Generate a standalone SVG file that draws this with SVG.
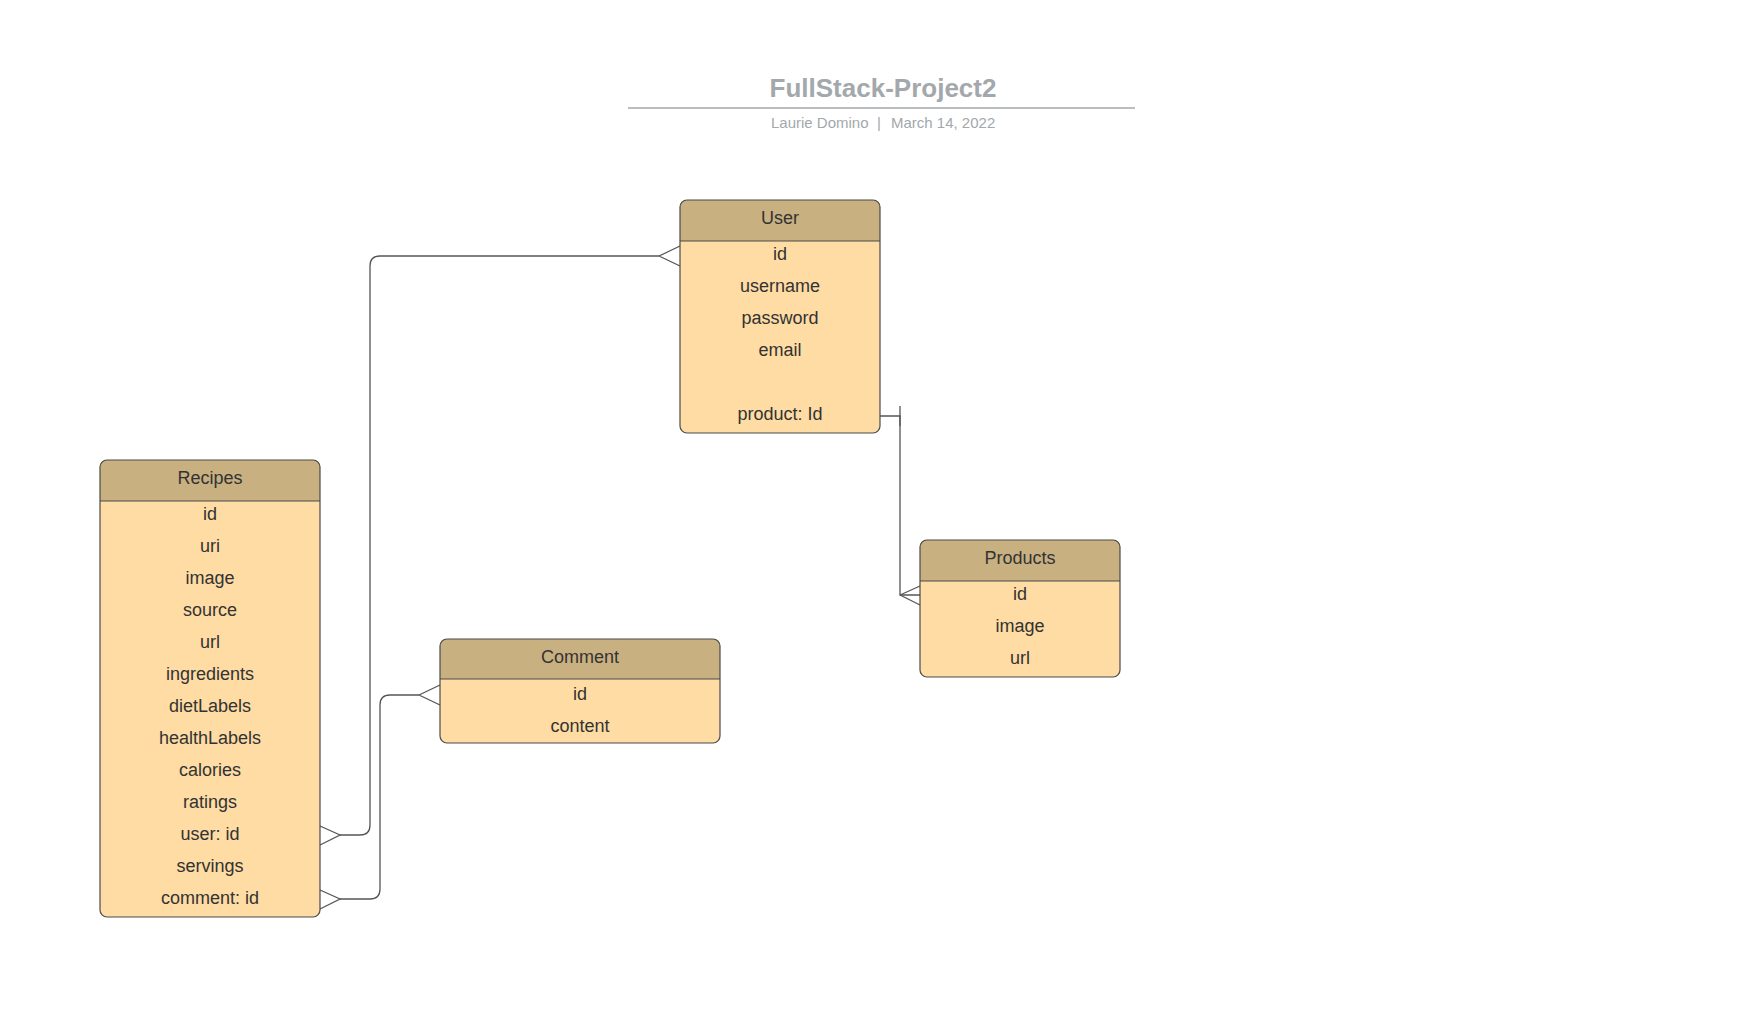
<svg xmlns="http://www.w3.org/2000/svg" width="1760" height="1012" viewBox="0 0 1760 1012">
<style>
.body{fill:#FEDCA4;}
.hdr{fill:#C9B081;}
.out{fill:none;stroke:#4a4a4a;stroke-width:1.2;}
.sep{stroke:#4a4a4a;stroke-width:1.2;}
.t{font-family:"Liberation Sans",Arial,sans-serif;font-size:18px;fill:#333333;text-anchor:middle;dominant-baseline:central;}
.conn{fill:none;stroke:#555555;stroke-width:1.3;}
</style>
<rect width="1760" height="1012" fill="#ffffff"/>
<g id="title">
<text x="883" y="97" font-family="Liberation Sans, Arial, sans-serif" font-size="26" font-weight="bold" fill="#A3A8AC" text-anchor="middle">FullStack-Project2</text>
<line x1="628" y1="108" x2="1135" y2="108" stroke="#A3A8AC" stroke-width="1.5"/>
<text y="128" font-family="Liberation Sans, Arial, sans-serif" font-size="15" fill="#A3A8AC"><tspan x="771">Laurie Domino</tspan><tspan x="877">|</tspan><tspan x="891">March 14, 2022</tspan></text>
</g>
<g id="connectors">
<path class="conn" d="M340 835 H360 Q370 835 370 825 V266 Q370 256 380 256 H659"/>
<path class="conn" d="M659 256 L680 246 M659 256 L680 266"/>
<path class="conn" d="M320 826 L340 835 L320 845"/>
<path class="conn" d="M340 899 H370 Q380 899 380 889 V705 Q380 695 390 695 H419"/>
<path class="conn" d="M419 695 L440 685 M419 695 L440 705"/>
<path class="conn" d="M320 890 L340 899 L320 909"/>
<path class="conn" d="M880 416 H900 V595 H920"/>
<path class="conn" d="M900 406 V426"/>
<path class="conn" d="M900 595 L920 586 M900 595 L920 605"/>
</g>
<g id="user">
<rect class="body" x="680" y="200" width="200" height="233" rx="7"/>
<path class="hdr" d="M680 241 V207 Q680 200 687 200 H873 Q880 200 880 207 V241 Z"/>
<line class="sep" x1="680" y1="241" x2="880" y2="241"/>
<rect class="out" x="680" y="200" width="200" height="233" rx="7"/>
<text class="t" x="780" y="218">User</text>
<text class="t" x="780" y="254">id</text>
<text class="t" x="780" y="286">username</text>
<text class="t" x="780" y="318">password</text>
<text class="t" x="780" y="350">email</text>
<text class="t" x="780" y="414">product: Id</text>
</g>
<g id="recipes">
<rect class="body" x="100" y="460" width="220" height="457" rx="7"/>
<path class="hdr" d="M100 501 V467 Q100 460 107 460 H313 Q320 460 320 467 V501 Z"/>
<line class="sep" x1="100" y1="501" x2="320" y2="501"/>
<rect class="out" x="100" y="460" width="220" height="457" rx="7"/>
<text class="t" x="210" y="478">Recipes</text>
<text class="t" x="210" y="514">id</text>
<text class="t" x="210" y="546">uri</text>
<text class="t" x="210" y="578">image</text>
<text class="t" x="210" y="610">source</text>
<text class="t" x="210" y="642">url</text>
<text class="t" x="210" y="674">ingredients</text>
<text class="t" x="210" y="706">dietLabels</text>
<text class="t" x="210" y="738">healthLabels</text>
<text class="t" x="210" y="770">calories</text>
<text class="t" x="210" y="802">ratings</text>
<text class="t" x="210" y="834">user: id</text>
<text class="t" x="210" y="866">servings</text>
<text class="t" x="210" y="898">comment: id</text>
</g>
<g id="comment">
<rect class="body" x="440" y="639" width="280" height="104" rx="7"/>
<path class="hdr" d="M440 679 V646 Q440 639 447 639 H713 Q720 639 720 646 V679 Z"/>
<line class="sep" x1="440" y1="679" x2="720" y2="679"/>
<rect class="out" x="440" y="639" width="280" height="104" rx="7"/>
<text class="t" x="580" y="657">Comment</text>
<text class="t" x="580" y="694">id</text>
<text class="t" x="580" y="726">content</text>
</g>
<g id="products">
<rect class="body" x="920" y="540" width="200" height="137" rx="7"/>
<path class="hdr" d="M920 581 V547 Q920 540 927 540 H1113 Q1120 540 1120 547 V581 Z"/>
<line class="sep" x1="920" y1="581" x2="1120" y2="581"/>
<rect class="out" x="920" y="540" width="200" height="137" rx="7"/>
<text class="t" x="1020" y="558">Products</text>
<text class="t" x="1020" y="594">id</text>
<text class="t" x="1020" y="626">image</text>
<text class="t" x="1020" y="658">url</text>
</g>
</svg>
